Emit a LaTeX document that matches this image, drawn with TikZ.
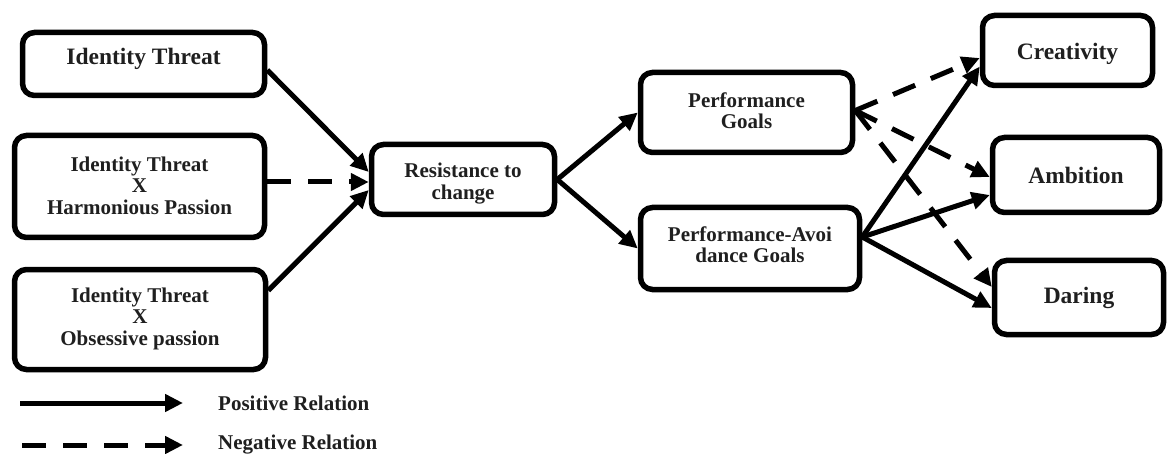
\documentclass[tikz,border=0pt]{standalone}
\usepackage{fontspec}
\setmainfont{Liberation Serif}
\usetikzlibrary{arrows.meta}
\begin{document}
\begin{tikzpicture}[x=1pt,y=-1pt,
  box/.style={draw, line width=5.5pt, rounded corners=12pt, inner sep=0pt},
  lbl/.style={font=\bfseries\fontsize{21}{21.5}\selectfont, align=center, inner sep=0pt, text=black!88},
  big/.style={font=\bfseries\fontsize{23.5}{24}\selectfont, align=center, inner sep=0pt, text=black!88},
  posrel/.style={line width=5pt, -{Triangle[length=18pt,width=17pt]}},
  negrel/.style={posrel, dash pattern=on 24pt off 17pt},
]
\useasboundingbox (0,0) rectangle (1169,454);

% boxes
\node[box, minimum width=242pt, minimum height=63pt]  (it1) at (143.5,64) {};
\node[box, minimum width=250pt, minimum height=102pt] (it2) at (139.5,186.5) {};
\node[box, minimum width=251pt, minimum height=100pt] (it3) at (140,319.5) {};
\node[box, minimum width=183pt, minimum height=70pt]  (rc)  at (463,179.5) {};
\node[box, minimum width=212pt, minimum height=80pt]  (pg)  at (746.5,112.5) {};
\node[box, minimum width=219pt, minimum height=82pt]  (pag) at (750,248.5) {};
\node[box, minimum width=170pt, minimum height=70pt]  (cr)  at (1067.5,50.5) {};
\node[box, minimum width=167pt, minimum height=75pt]  (am)  at (1076,175) {};
\node[box, minimum width=169pt, minimum height=74pt]  (da)  at (1079,297.5) {};

% box texts
\node[big] (it1t) at ([yshift=5pt]it1.center) {Identity Threat};
\node[lbl] (it2t) at ([yshift=1pt]it2.center) {Identity Threat\\X\\Harmonious Passion};
\node[lbl] (it3t) at ([yshift=1pt]it3.center) {Identity Threat\\X\\Obsessive passion};
\node[lbl] (rct)  at ([yshift=-4pt]rc.center) {Resistance to\\change};
\node[lbl] (pgt)  at ([yshift=2pt]pg.center) {Performance\\Goals};
\node[lbl] (pagt) at ([yshift=4pt]pag.center) {Performance-Avoi\\dance Goals};
\node[big] (crt)  at ([yshift=-3pt]cr.center) {Creativity};
\node[big] (amt)  at (am.center) {Ambition};
\node[big] (dat)  at (da.center) {Daring};

% relations into resistance to change
\draw[posrel] ([yshift=-6pt]it1.east) -- ([yshift=7.5pt]rc.west);
\draw[negrel] ([yshift=-2.5pt]rc.west -| it2.east) -- ([yshift=-2.5pt]rc.west);
\draw[posrel] ([yshift=29pt]it3.east) -- ([yshift=-10.5pt]rc.west);

% resistance to change into goals
\draw[posrel] (rc.east) -- (pg.west);
\draw[posrel] (rc.east) -- (pag.west);

% goals into outcomes
\draw[posrel] ([yshift=11.5pt]pag.east) -- ([yshift=-16pt]cr.west);
\draw[posrel] ([yshift=11.5pt]pag.east) -- ([yshift=-20pt]am.west);
\draw[posrel] ([yshift=11.5pt]pag.east) -- ([yshift=-10.5pt]da.west);
\draw[negrel] ([yshift=2pt]pg.east) -- ([yshift=-7.5pt]cr.west);
\draw[negrel] ([yshift=2pt]pg.east) -- ([yshift=-2pt]am.west);
\draw[negrel] ([yshift=2pt]pg.east) -- ([yshift=10.5pt]da.west);

% legend
\coordinate (l1a) at (20,403);
\coordinate (l1b) at (183,403);
\coordinate (l2a) at (22,445);
\coordinate (l2b) at (183,445);
\draw[posrel] (l1a) -- (l1b);
\draw[negrel] (l2a) -- (l2b);
\node[lbl, anchor=west] (l1t) at (218,403) {Positive Relation};
\node[lbl, anchor=west] (l2t) at (218,445) {Negative Relation};
\end{tikzpicture}
\end{document}
